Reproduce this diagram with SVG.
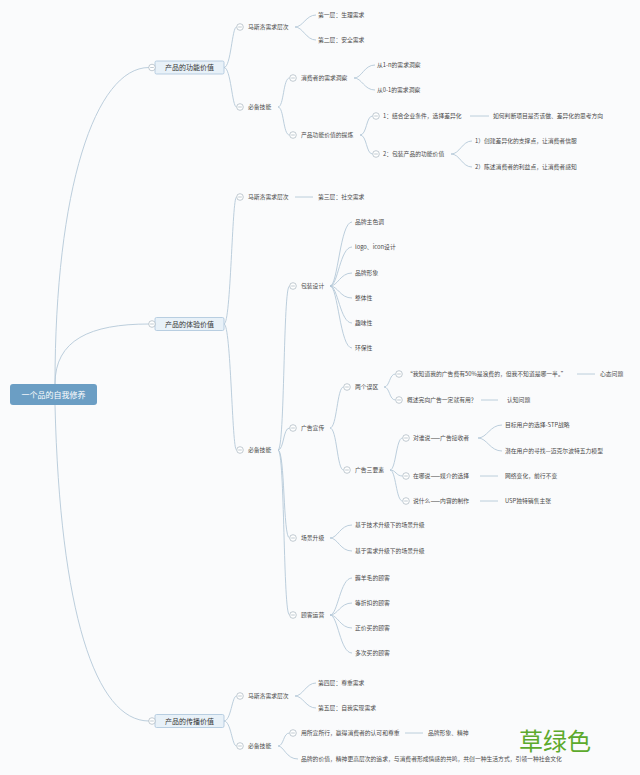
<svg xmlns="http://www.w3.org/2000/svg" width="640" height="775" viewBox="0 0 640 775">
<style>
text{font-family:"Noto Sans CJK SC","Noto Sans",sans-serif;fill:#4a4a4a;font-size:5.8px}
.c{fill:none;stroke:#b4c8d8;stroke-width:0.9}
.t1{font-size:7px;fill:#333;text-anchor:middle}
.root{font-size:8px;fill:#fff;text-anchor:middle}
.box{fill:#e8f1f8;stroke:#a9c4da;stroke-width:0.8}
.k{fill:#fff;stroke:#a8b4be;stroke-width:0.7}
.km{stroke:#a8b4be;stroke-width:0.7}
.wm{font-size:24px;fill:#5daa2c}
</style>
<defs>
<g id="col"><circle class="k" cx="0" cy="0" r="3.3"/><line class="km" x1="-1.8" y1="0" x2="1.8" y2="0"/></g>
</defs>
<rect width="640" height="775" fill="#fafbfc"/>
<g id="connectors">
<path class="c" d="M55 384 C55 190 95 67.5 149 67.5"/>
<path class="c" d="M55 384 C55 340 90 324 149 324"/>
<path class="c" d="M55 405 C60 610 95 721 149 721"/>
<path class="c" d="M224 67.5 C231 67.5 232 27 236.5 27"/>
<path class="c" d="M224 67.5 C231 67.5 232 107 236.5 107"/>
<path class="c" d="M295 27 C303 27 306 15 316 15"/>
<path class="c" d="M295 27 C303 27 306 40 316 40"/>
<path class="c" d="M278 107 C284 107 283 78 289.5 78"/>
<path class="c" d="M278 107 C284 107 283 135 289.5 135"/>
<path class="c" d="M354 78 C362 78 364 65 375 65"/>
<path class="c" d="M354 78 C362 78 364 90 375 90"/>
<path class="c" d="M360 135 C367 135 366 116 372.5 116"/>
<path class="c" d="M360 135 C367 135 366 154 372.5 154"/>
<path class="c" d="M470 116 H489"/>
<path class="c" d="M451 154 C460 154 462 141 472 141"/>
<path class="c" d="M451 154 C460 154 462 167 472 167"/>
<path class="c" d="M224 324 C231 324 232 197 236.5 197"/>
<path class="c" d="M224 324 C231 324 232 450 236.5 450"/>
<path class="c" d="M295 197 H313"/>
<path class="c" d="M278 450 C285 450 283 286 289.5 286"/>
<path class="c" d="M278 450 C284 450 283 428 289.5 428"/>
<path class="c" d="M278 450 C285 450 283 538 289.5 538"/>
<path class="c" d="M278 450 C285 450 283 615 289.5 615"/>
<path class="c" d="M330 286 C338 286 340 222 352 222"/>
<path class="c" d="M330 286 C338 286 340 247 352 247"/>
<path class="c" d="M330 286 C338 286 340 273 352 273"/>
<path class="c" d="M330 286 C338 286 340 298 352 298"/>
<path class="c" d="M330 286 C338 286 340 323 352 323"/>
<path class="c" d="M330 286 C338 286 340 348 352 348"/>
<path class="c" d="M330 428 C337 428 337 387 343.5 387"/>
<path class="c" d="M330 428 C337 428 337 470 343.5 470"/>
<path class="c" d="M384 387 C390 387 389 374 395.5 374"/>
<path class="c" d="M384 387 C390 387 389 400 395.5 400"/>
<path class="c" d="M577 374 H595"/>
<path class="c" d="M481 400 H498"/>
<path class="c" d="M390 470 C396 470 396 438 402.5 438"/>
<path class="c" d="M390 470 C396 470 396 476 402.5 476"/>
<path class="c" d="M390 470 C396 470 396 501 402.5 501"/>
<path class="c" d="M478 438 C487 438 490 425 502 425"/>
<path class="c" d="M478 438 C487 438 490 451 502 451"/>
<path class="c" d="M480 476 H498"/>
<path class="c" d="M480 501 H498"/>
<path class="c" d="M330 538 C338 538 340 525 352 525"/>
<path class="c" d="M330 538 C338 538 340 551 352 551"/>
<path class="c" d="M330 615 C338 615 340 578 352 578"/>
<path class="c" d="M330 615 C338 615 340 603 352 603"/>
<path class="c" d="M330 615 C338 615 340 628 352 628"/>
<path class="c" d="M330 615 C338 615 340 653 352 653"/>
<path class="c" d="M224 721 C231 721 232 696 236.5 696"/>
<path class="c" d="M224 721 C231 721 232 746 236.5 746"/>
<path class="c" d="M295 696 C303 696 306 683 316 683"/>
<path class="c" d="M295 696 C303 696 306 708 316 708"/>
<path class="c" d="M278 746 C284 746 283 733 289.5 733"/>
<path class="c" d="M278 746 C284 746 286 759 298 759"/>
<path class="c" d="M405 733 H423"/>
</g>
<g id="root"><rect x="10" y="384" width="87" height="21" rx="3" fill="#6b9ec4"/><text class="root" x="53.5" y="397.5">一个品的自我修养</text></g>
<g id="n-func"><rect class="box" x="155" y="61" width="69" height="13" rx="1.5"/><use href="#col" x="152" y="67.5"/><text class="t1" x="189.5" y="70">产品的功能价值</text></g>
<g id="n-exp"><rect class="box" x="155" y="317.5" width="69" height="13" rx="1.5"/><use href="#col" x="152" y="324"/><text class="t1" x="189.5" y="326.5">产品的体验价值</text></g>
<g id="n-spread"><rect class="box" x="155" y="714.5" width="69" height="13" rx="1.5"/><use href="#col" x="152" y="721"/><text class="t1" x="189.5" y="723.5">产品的传播价值</text></g>

<g id="a1"><use href="#col" x="240" y="27"/><text x="248" y="29">马斯洛需求层次</text></g>
<g id="a1a"><text x="318" y="17">第一层：生理需求</text></g>
<g id="a1b"><text x="318" y="42">第二层：安全需求</text></g>
<g id="a2"><use href="#col" x="240" y="107"/><text x="248" y="109">必备技能</text></g>
<g id="a2a"><use href="#col" x="293" y="78"/><text x="301" y="80">消费者的需求洞察</text></g>
<g id="a2a1"><text x="377" y="67">从1-n的需求洞察</text></g>
<g id="a2a2"><text x="377" y="92">从0-1的需求洞察</text></g>
<g id="a2b"><use href="#col" x="293" y="135"/><text x="301" y="137">产品功能价值的提炼</text></g>
<g id="a2b1"><use href="#col" x="376" y="116"/><text x="383" y="118">1：结合企业条件，选择差异化</text></g>
<g id="a2b1a"><text x="493" y="118">如何判断项目是否该做、差异化的思考方向</text></g>
<g id="a2b2"><use href="#col" x="376" y="154"/><text x="383" y="156">2：包装产品的功能价值</text></g>
<g id="a2b2a"><text x="475" y="143">1）创建差异化的支撑点，让消费者信服</text></g>
<g id="a2b2b"><text x="475" y="169">2）陈述消费者的利益点，让消费者感知</text></g>

<g id="b1"><use href="#col" x="240" y="197"/><text x="248" y="199">马斯洛需求层次</text></g>
<g id="b1a"><text x="318" y="199">第三层：社交需求</text></g>
<g id="b2"><use href="#col" x="240" y="450"/><text x="248" y="452">必备技能</text></g>
<g id="b2a"><use href="#col" x="293" y="286"/><text x="301" y="288">包装设计</text></g>
<g id="b2a1"><text x="355" y="224">品牌主色调</text></g>
<g id="b2a2"><text x="355" y="249">logo、icon设计</text></g>
<g id="b2a3"><text x="355" y="275">品牌形象</text></g>
<g id="b2a4"><text x="355" y="300">整体性</text></g>
<g id="b2a5"><text x="355" y="325">趣味性</text></g>
<g id="b2a6"><text x="355" y="350">环保性</text></g>
<g id="b2b"><use href="#col" x="293" y="428"/><text x="301" y="430">广告宣传</text></g>
<g id="b2b1"><use href="#col" x="347" y="387"/><text x="355" y="389">两个误区</text></g>
<g id="b2b1a"><use href="#col" x="399" y="374"/><text x="407" y="376">“我知道我的广告费有50%是浪费的，但我不知道是哪一半。”</text></g>
<g id="b2b1a1"><text x="600" y="376">心态问题</text></g>
<g id="b2b1b"><use href="#col" x="399" y="400"/><text x="407" y="402">概述完向广告一定就有用？</text></g>
<g id="b2b1b1"><text x="507" y="402">认知问题</text></g>
<g id="b2b2"><use href="#col" x="347" y="470"/><text x="355" y="472">广告三要素</text></g>
<g id="b2b2a"><use href="#col" x="406" y="438"/><text x="413" y="440">对谁说——广告接收者</text></g>
<g id="b2b2a1"><text x="505" y="427">目标用户的选择-STP战略</text></g>
<g id="b2b2a2"><text x="505" y="453">潜在用户的寻找—迈克尔波特五力模型</text></g>
<g id="b2b2b"><use href="#col" x="406" y="476"/><text x="413" y="478">在哪说——媒介的选择</text></g>
<g id="b2b2b1"><text x="505" y="478">网络变化，前行不变</text></g>
<g id="b2b2c"><use href="#col" x="406" y="501"/><text x="413" y="503">说什么——内容的制作</text></g>
<g id="b2b2c1"><text x="505" y="503">USP独特销售主张</text></g>
<g id="b2c"><use href="#col" x="293" y="538"/><text x="301" y="540">场景升级</text></g>
<g id="b2c1"><text x="355" y="527">基于技术升级下的场景升级</text></g>
<g id="b2c2"><text x="355" y="553">基于需求升级下的场景升级</text></g>
<g id="b2d"><use href="#col" x="293" y="615"/><text x="301" y="617">顾客运营</text></g>
<g id="b2d1"><text x="355" y="580">薅羊毛的顾客</text></g>
<g id="b2d2"><text x="355" y="605">等折扣的顾客</text></g>
<g id="b2d3"><text x="355" y="630">正价买的顾客</text></g>
<g id="b2d4"><text x="355" y="655">多次买的顾客</text></g>

<g id="c1"><use href="#col" x="240" y="696"/><text x="248" y="698">马斯洛需求层次</text></g>
<g id="c1a"><text x="318" y="685">第四层：尊重需求</text></g>
<g id="c1b"><text x="318" y="710">第五层：自我实现需求</text></g>
<g id="c2"><use href="#col" x="240" y="746"/><text x="248" y="748">必备技能</text></g>
<g id="c2a"><use href="#col" x="293" y="733"/><text x="301" y="735">用所宣所行，赢得消费者的认可和尊重</text></g>
<g id="c2a1"><text x="428" y="735">品牌形象、精神</text></g>
<g id="c2b"><text x="301" y="761">品牌的价值，精神更高层次的追求，与消费者形成情感的共鸣，共创一种生活方式，引领一种社会文化</text></g>

<text class="wm" x="519" y="750">草绿色</text>
</svg>
